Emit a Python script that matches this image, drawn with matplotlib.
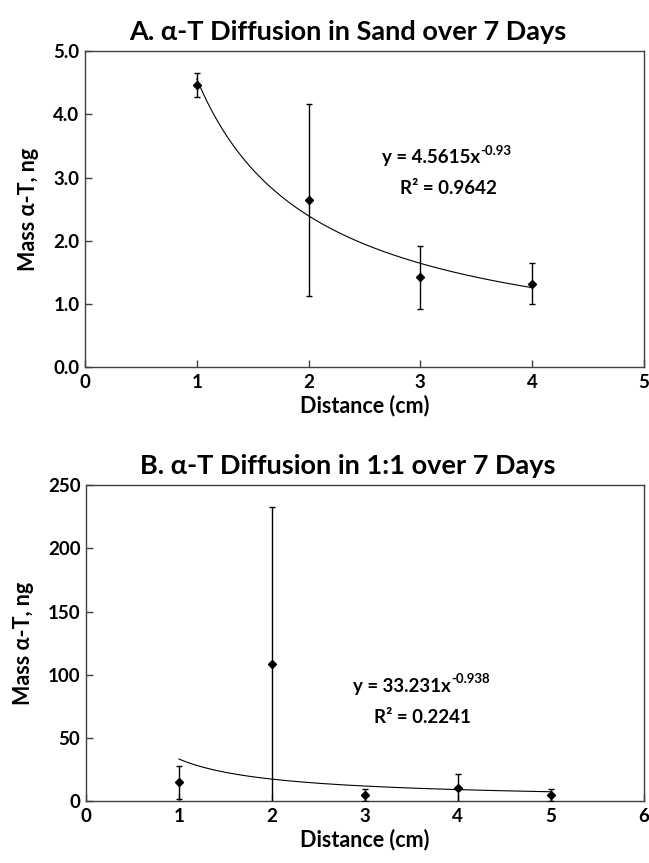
import numpy as np
import matplotlib
matplotlib.use("Agg")
import matplotlib.pyplot as plt

plt.rcParams['font.family'] = ['Lato', 'DejaVu Sans']
plt.rcParams['font.weight'] = 'bold'
plt.rcParams['axes.titleweight'] = 'bold'
plt.rcParams['axes.labelweight'] = 'bold'

# panel A: sand
dist_a = [1, 2, 3, 4]
mass_a = [4.46, 2.65, 1.42, 1.32]
err_a = [0.19, 1.52, 0.50, 0.33]
coef_a, exp_a, r2_a = 4.5615, '-0.93', 0.9642

# panel B: 1:1
dist_b = [1, 2, 3, 4, 5]
mass_b = [14.8, 108.4, 4.5, 10.5, 4.9]
err_b = [12.9, 124.0, 4.7, 11.1, 4.6]
coef_b, exp_b, r2_b = 33.231, '-0.938', 0.2241

fig = plt.figure(figsize=(6.49, 8.63), dpi=100)
ax1 = fig.add_axes([0.131, 0.5747, 0.861, 0.366])
ax2 = fig.add_axes([0.1325, 0.0718, 0.8595, 0.366])


def panel(ax, x, y, e, a, b, r2, title, xmax, ymax, ystep, fmt, eqpos):
    ax.errorbar(x, y, yerr=e, fmt='D', color='black', ms=4.5, ecolor='black',
                elinewidth=1.0, capsize=2.5, capthick=1.0, zorder=3)
    xs = np.linspace(min(x), max(x), 200)
    ax.plot(xs, a * xs ** float(b), color='black', lw=0.8, zorder=2)
    ax.set_xlim(0, xmax)
    ax.set_ylim(0, ymax)
    ax.set_xticks(np.arange(0, xmax + 1, 1))
    yt = np.arange(0, ymax + ystep / 2, ystep)
    ax.set_yticks(yt)
    ax.set_yticklabels([fmt.format(v) for v in yt])
    ax.tick_params(direction='in', length=5, width=1, color='#404040',
                   labelsize=13.5)
    ax.tick_params(axis='x', pad=5)
    ax.tick_params(axis='y', pad=4)
    for s in ax.spines.values():
        s.set_color('#404040')
        s.set_linewidth(1.0)
    ax.set_xlabel('Distance (cm)', fontsize=15.5, labelpad=3)
    ax.set_ylabel('Mass α-T, ng', fontsize=15.5, labelpad=10)
    ax.set_title(title, fontsize=19.5, pad=8, x=0.47)
    t = ax.text(eqpos[0], eqpos[1], 'y = {}x'.format(a), ha='center',
                va='center', fontsize=13.5)
    ax.annotate(b, xy=(1.0, 0.55), xycoords=t, ha='left', va='bottom',
                fontsize=9.5)
    ax.text(eqpos[2], eqpos[3], 'R² = {}'.format(r2), ha='center', va='center',
            fontsize=13.5)


panel(ax1, dist_a, mass_a, err_a, coef_a, exp_a, r2_a,
      'A. α-T Diffusion in Sand over 7 Days', 5, 5.0, 1.0, '{:.1f}',
      (3.10, 3.31, 3.25, 2.83))
panel(ax2, dist_b, mass_b, err_b, coef_b, exp_b, r2_b,
      'B. α-T Diffusion in 1:1 over 7 Days', 6, 250, 50, '{:.0f}',
      (3.40, 91, 3.62, 66.5))

fig.savefig('out.png', dpi=100)
